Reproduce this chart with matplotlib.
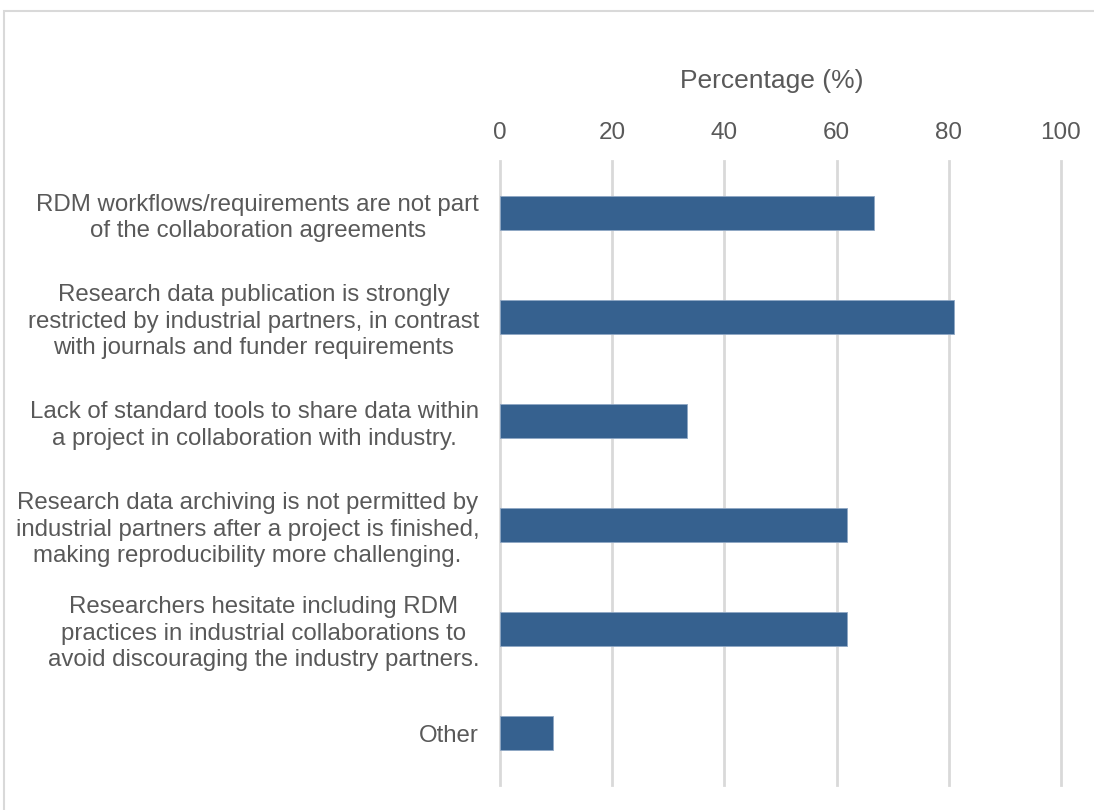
import numpy as np
import matplotlib.pyplot as plt
from matplotlib.patches import Rectangle

plt.rcParams['font.family'] = ['Liberation Sans', 'DejaVu Sans']

# Data
categories = [
    'RDM workflows/requirements are not part\nof the collaboration agreements',
    'Research data publication is strongly\nrestricted by industrial partners, in contrast\nwith journals and funder requirements',
    'Lack of standard tools to share data within\na project in collaboration with industry.',
    'Research data archiving is not permitted by\nindustrial partners after a project is finished,\nmaking reproducibility more challenging.',
    'Researchers hesitate including RDM\npractices in industrial collaborations to\navoid discouraging the industry partners.',
    'Other',
]
values = [66.7, 81.0, 33.3, 61.9, 61.9, 9.5]
xticks = [0, 20, 40, 60, 80, 100]

text_color = '#595959'
bar_color = '#36618f'

fig = plt.figure(figsize=(10.94, 8.10), dpi=100)
ax = fig.add_axes([500 / 1094, 1 - 785 / 810, 561 / 1094, 624 / 810])

y = np.arange(len(categories))
ax.barh(y, values, height=0.32, color=bar_color, edgecolor='#8fa7c4', linewidth=0.6, zorder=3)
ax.set_ylim(len(categories) - 0.5, -0.5)
ax.set_xlim(0, 100)

ax.xaxis.tick_top()
ax.xaxis.set_label_position('top')
ax.set_xticks(xticks)
ax.set_xticklabels([str(v) for v in xticks])
ax.set_xlabel('Percentage (%)', fontsize=19, color=text_color, labelpad=25)
ax.xaxis.label.set_x(0.484)
ax.tick_params(axis='x', length=0, labelsize=17.5, colors=text_color, pad=12)

ax.set_yticks(y)
ax.set_yticklabels(categories, fontsize=17.3, color=text_color,
                   multialignment='center', linespacing=1.27)
ax.tick_params(axis='y', length=0, pad=15)

ax.grid(axis='x', color='#d9d9d9', linewidth=2, zorder=0)
for line in ax.get_xgridlines():
    line.set_clip_on(False)
for s in ax.spines.values():
    s.set_visible(False)

# outer chart border
fig.patches.append(Rectangle((4 / 1094, -0.01), 1.02, 1 - 11 / 810 + 0.01,
                             transform=fig.transFigure, fill=False,
                             edgecolor='#d9d9d9', linewidth=1.5))

fig.savefig('out.png', dpi=100)
